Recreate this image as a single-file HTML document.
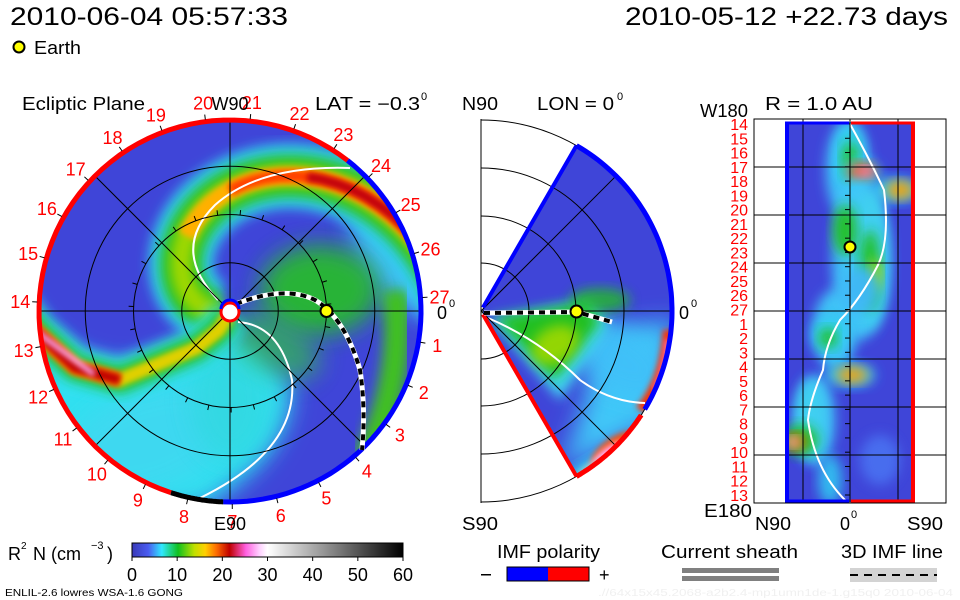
<!DOCTYPE html>
<html><head><meta charset="utf-8"><style>
html,body{margin:0;padding:0;background:#fff;}
svg{display:block;font-family:"Liberation Sans",sans-serif;}
</style></head><body>
<svg id="main" width="960" height="600" viewBox="0 0 960 600" xmlns="http://www.w3.org/2000/svg">
<defs>
<filter id="b6" x="-30%" y="-30%" width="160%" height="160%"><feGaussianBlur stdDeviation="6"/></filter>
<filter id="b3" x="-30%" y="-30%" width="160%" height="160%"><feGaussianBlur stdDeviation="3"/></filter>
<filter id="b12" x="-50%" y="-50%" width="200%" height="200%"><feGaussianBlur stdDeviation="12"/></filter>
<clipPath id="discClip"><circle cx="230" cy="311" r="193"/></clipPath>
<clipPath id="wedgeClip"><path id="wedgeClipPath" d=""/></clipPath>
<clipPath id="rectClip"><rect x="787" y="122" width="126" height="380"/></clipPath>
<linearGradient id="cbar" x1="0" x2="1" y1="0" y2="0">
<stop offset="0" stop-color="#3a3ab8"/><stop offset="0.06" stop-color="#4a5cf0"/><stop offset="0.11" stop-color="#30e8ff"/>
<stop offset="0.17" stop-color="#10c020"/><stop offset="0.23" stop-color="#c0e000"/><stop offset="0.27" stop-color="#ffd000"/>
<stop offset="0.31" stop-color="#ff7000"/><stop offset="0.36" stop-color="#c00000"/><stop offset="0.42" stop-color="#ff60e0"/>
<stop offset="0.47" stop-color="#ffd0ff"/><stop offset="0.5" stop-color="#ffffff"/><stop offset="1" stop-color="#000000"/>
</linearGradient>
</defs>

<text x="10" y="25" font-size="25" textLength="278" lengthAdjust="spacingAndGlyphs">2010-06-04 05:57:33</text>
<text x="625" y="25" font-size="25" textLength="323" lengthAdjust="spacingAndGlyphs">2010-05-12 +22.73 days</text>
<circle cx="19" cy="47" r="5.5" fill="#ffff00" stroke="#000" stroke-width="2"/>
<text x="34" y="54" font-size="18" textLength="47" lengthAdjust="spacingAndGlyphs">Earth</text>

<g id="left">
<text x="22" y="110" font-size="18" textLength="123" lengthAdjust="spacingAndGlyphs">Ecliptic Plane</text>
<text x="315" y="110" font-size="18" textLength="105" lengthAdjust="spacingAndGlyphs">LAT = −0.3</text>
<text x="421" y="100" font-size="11">0</text>
<g clip-path="url(#discClip)" id="leftField">
<circle cx="230" cy="311" r="193" fill="#3f45d8"/>
</g>
<g id="leftOver"></g>
</g>

<g id="mid">
<text x="462" y="110" font-size="18" textLength="36" lengthAdjust="spacingAndGlyphs">N90</text>
<text x="537" y="110" font-size="18" textLength="77" lengthAdjust="spacingAndGlyphs">LON = 0</text>
<text x="617" y="100" font-size="11">0</text>
<text x="462" y="530" font-size="18" textLength="36" lengthAdjust="spacingAndGlyphs">S90</text>
<text x="679" y="319" font-size="18">0</text>
<text x="691" y="307" font-size="11">0</text>
<g clip-path="url(#wedgeClip)" id="midField"></g>
<g id="midOver"></g>
</g>

<g id="right">
<text x="765" y="110" font-size="18" textLength="108" lengthAdjust="spacingAndGlyphs">R = 1.0 AU</text>
<text x="700" y="117" font-size="18" textLength="48" lengthAdjust="spacingAndGlyphs">W180</text>
<text x="704" y="517" font-size="18" textLength="48" lengthAdjust="spacingAndGlyphs">E180</text>
<text x="755" y="530" font-size="18" textLength="36" lengthAdjust="spacingAndGlyphs">N90</text>
<text x="840" y="530" font-size="18">0</text>
<text x="851" y="518" font-size="11">0</text>
<text x="907" y="530" font-size="18" textLength="36" lengthAdjust="spacingAndGlyphs">S90</text>
<rect x="754" y="119" width="192" height="384" fill="none" stroke="#000" stroke-width="1"/>
<g clip-path="url(#rectClip)" id="rightField">
<rect x="785" y="122" width="130" height="380" fill="#3f45d8"/>
</g>
<g id="rightOver"></g>
</g>

<g id="cbarG">
<text x="8" y="560" font-size="18">R</text>
<text x="21" y="549" font-size="10">2</text>
<text x="33" y="560" font-size="18">N (cm</text>
<text x="91" y="549" font-size="11">−3</text>
<text x="107" y="560" font-size="18">)</text>
<rect x="132" y="543" width="271" height="14" fill="url(#cbar)" stroke="#000" stroke-width="1"/>
</g>

<g>
<text x="497" y="558" font-size="18" textLength="103" lengthAdjust="spacingAndGlyphs">IMF polarity</text>
<rect x="481" y="574" width="10" height="1.5" fill="#000"/>
<rect x="507" y="567" width="41" height="14" fill="#0000ff"/>
<rect x="548" y="567" width="41" height="14" fill="#ff0000"/>
<rect x="507" y="567" width="82" height="14" fill="none" stroke="#000"/>
<text x="599" y="581" font-size="18">+</text>
</g>
<g>
<text x="661" y="558" font-size="18" textLength="137" lengthAdjust="spacingAndGlyphs">Current sheath</text>
<rect x="682" y="568" width="97" height="5" fill="#808080"/>
<rect x="682" y="576" width="97" height="5" fill="#808080"/>
</g>
<g>
<text x="841" y="558" font-size="18" textLength="102" lengthAdjust="spacingAndGlyphs">3D IMF line</text>
<rect x="850" y="568" width="87" height="14" fill="#d3d3d3"/>
<line x1="850" y1="575" x2="937" y2="575" stroke="#000" stroke-width="2" stroke-dasharray="8,6"/>
</g>
<text x="5" y="596" font-size="10" textLength="178" lengthAdjust="spacingAndGlyphs">ENLIL-2.6 lowres WSA-1.6 GONG</text>
<text x="598" y="596" font-size="10" fill="#f0f0f0" textLength="355" lengthAdjust="spacingAndGlyphs">.//64x15x45.2068-a2b2.4-mp1umn1de-1.g15q0   2010-06-04</text>

<script>
// ---- data arrays ----
const cbarTicks = [0, 10, 20, 30, 40, 50, 60];
const cbarMax = 60;
const dayLabels = [1,2,3,4,5,6,7,8,9,10,11,12,13,14,15,16,17,18,19,20,21,22,23,24,25,26,27];
const ringRadiiAU = [0.5, 1.0, 1.5];
const earthLonDeg = 0;
const earthLatDeg = -0.3;
const earthR_AU = 1.0;
const outerR_AU = 2.0;
const rightRowLabels = [14,15,16,17,18,19,20,21,22,23,24,25,26,27,1,2,3,4,5,6,7,8,9,10,11,12,13];

const NS='http://www.w3.org/2000/svg';
function mk(tag, attrs, parent){const e=document.createElementNS(NS,tag);for(const k in attrs)e.setAttribute(k,attrs[k]);parent.appendChild(e);return e;}
const L={cx:230,cy:311,R:193};
const M={cx:481,cy:311,R:191};
function rScale(au,P){return au/outerR_AU*P.R;}
function pol(P,phi,r){const a=phi*Math.PI/180;return [P.cx+r*Math.cos(a),P.cy-r*Math.sin(a)];}
function pathFrom(pts){return pts.map((p,i)=>(i?'L':'M')+p[0].toFixed(1)+','+p[1].toFixed(1)).join(' ');}

const lf=document.getElementById('leftField');
function blob(parent,cx,cy,rx,ry,fill,f,op,rot){return mk('ellipse',{cx:cx,cy:cy,rx:rx,ry:ry,fill:fill,filter:'url(#'+f+')',opacity:op||1,transform:rot?`rotate(${rot} ${cx} ${cy})`:''},parent);}
mk('path',{d:'M40,330 Q120,400 230,330 L290,380 Q300,450 200,510 L30,510 Z',fill:'#30e0f0',filter:'url(#b12)'},lf);
blob(lf,150,440,90,50,'#40d8f0','b12',0.9,-20);
blob(lf,230,400,40,60,'#30d8e0','b12',0.8);
blob(lf,400,250,40,70,'#40c8f8','b12',0.95,-30);
blob(lf,320,290,60,45,'#28c028','b12',0.9);
blob(lf,275,345,50,25,'#30c048','b12',0.7,30);
mk('path',{d:'M395,290 Q405,380 365,460',fill:'none',stroke:'#40c020',"stroke-width":26,filter:'url(#b6)'},lf);
const arm1=[];for(let ph=185;ph>=0;ph-=5){arm1.push(pol(L,ph,18+1.14*(180-ph)));}
const a1=pathFrom(arm1);
[['#30d0f0',64,'b6'],['#20c020',42,'b6'],['#a0d800',22,'b6']].forEach(s=>{mk('path',{d:a1,fill:'none',stroke:s[0],'stroke-width':s[1],filter:'url(#'+s[2]+')'},lf);});
const arm1m=[];for(let ph=120;ph>=0;ph-=5){arm1m.push(pol(L,ph,18+1.14*(180-ph)));}
mk('path',{d:pathFrom(arm1m),fill:'none',stroke:'#ffb000',"stroke-width":18,filter:'url(#b3)'},lf);
const arm1o=[];for(let ph=90;ph>=0;ph-=5){arm1o.push(pol(L,ph,18+1.14*(180-ph)));}
mk('path',{d:pathFrom(arm1o),fill:'none',stroke:'#ff4000',"stroke-width":12,filter:'url(#b3)'},lf);
const arm1p=[];for(let ph=60;ph>=15;ph-=5){arm1p.push(pol(L,ph,18+1.14*(180-ph)));}
mk('path',{d:pathFrom(arm1p),fill:'none',stroke:'#c00010',"stroke-width":9,filter:'url(#b3)'},lf);
const arm2Phi=[250,240,228,212,200,186,178];
const arm2R=[5,22,50,130,165,195,215];
const a2=pathFrom(arm2Phi.map((p,i)=>pol(L,p,arm2R[i])));
[['#30e0f0',40,'b6'],['#20c020',26,'b6'],['#e0d000',14,'b3']].forEach(s=>{mk('path',{d:a2,fill:'none',stroke:s[0],'stroke-width':s[1],filter:'url(#'+s[2]+')'},lf);});
const a2o=pathFrom(arm2Phi.slice(3).map((p,i)=>pol(L,p,arm2R[i+3])));
mk('path',{d:a2o,fill:'none',stroke:'#ff6000',"stroke-width":14,filter:'url(#b3)'},lf);
mk('path',{d:a2o,fill:'none',stroke:'#c00000','stroke-width':10,filter:'url(#b3)'},lf);
mk('path',{d:pathFrom([pol(L,205,150),pol(L,186,195),pol(L,178,215)]),fill:'none',stroke:'#ffb0ff','stroke-width':5,filter:'url(#b3)'},lf);
mk('path',{d:'M218,300 Q170,250 215,205 Q260,165 350,168',fill:'none',stroke:'#fff','stroke-width':2},lf);
mk('path',{d:'M238,322 Q280,325 292,380 Q298,450 200,498',fill:'none',stroke:'#fff','stroke-width':2},lf);

const lo=document.getElementById('leftOver');
ringRadiiAU.forEach(au=>{const c=mk('circle',{cx:L.cx,cy:L.cy,r:rScale(au,L),fill:'none',stroke:'#000','stroke-width':1},lo);});
[0,90,45,135].forEach(a=>{const p1=pol(L,a,L.R),p2=pol(L,a+180,L.R);const ln=mk('line',{x1:p1[0],y1:p1[1],x2:p2[0],y2:p2[1],stroke:'#000','stroke-width':1},lo);});
for(let i=0;i<27;i++){const ph=i*360/27+4;const p1=pol(L,ph,rScale(1,L)),p2=pol(L,ph,rScale(1,L)+5);mk('line',{x1:p1[0],y1:p1[1],x2:p2[0],y2:p2[1],stroke:'#000','stroke-width':1},lo);}
function arc(P,r,a0,a1,color,w,parent){const pts=[];const st=(a1-a0)/60;for(let i=0;i<=60;i++)pts.push(pol(P,a0+st*i,r));return mk('path',{d:pathFrom(pts),fill:'none',stroke:color,'stroke-width':w},parent);}
let b=arc(L,191,52,252,'#ff0000',5,lo);
b=arc(L,191,252,268,'#000',5,lo);
b=arc(L,191,-92,52,'#0000ff',5,lo);
dayLabels.forEach(d=>{const ph=(27-d)*360/27+4;const p=pol(L,ph,210);const t=mk('text',{x:p[0],y:p[1]+7,'font-size':18,fill:'#ff0000','text-anchor':'middle'},lo);t.textContent=d;

const q1=pol(L,ph,193),q2=pol(L,ph,198);mk('line',{x1:q1[0],y1:q1[1],x2:q2[0],y2:q2[1],stroke:'#000'},lo);});
let t=mk('text',{x:L.cx,y:110,'font-size':18,'text-anchor':'middle'},lo);t.textContent='W90';
t=mk('text',{x:L.cx,y:530,'font-size':18,'text-anchor':'middle'},lo);t.textContent='E90';
t=mk('text',{x:437,y:319,'font-size':18},lo);t.textContent='0';
mk('text',{x:449,y:307,'font-size':11},lo).textContent='0';
const imf='M236,304 Q285,285 315,300 Q345,318 360,370 Q366,410 362,450';
mk('path',{d:imf,fill:'none',stroke:'#fff','stroke-width':5},lo);
b=mk('path',{d:imf,fill:'none',stroke:'#000','stroke-width':4,'stroke-dasharray':'6,5'},lo);
mk('circle',{cx:L.cx,cy:L.cy+1,r:9,fill:'#fff',stroke:'#ff0000','stroke-width':3},lo);
b=mk('path',{d:'M221,309 A9,9 0 0 1 239,309',fill:'none',stroke:'#0000ff','stroke-width':3},lo);
const ep=pol(L,earthLonDeg,rScale(earthR_AU,L));
b=mk('circle',{cx:ep[0],cy:ep[1],r:6,fill:'#ffff00',stroke:'#000','stroke-width':2},lo);

const wedgePts=[pol(M,60,4)];for(let a=60;a>=-60;a-=2)wedgePts.push(pol(M,a,M.R));wedgePts.push(pol(M,-60,4));
const wd=pathFrom(wedgePts)+'Z';
document.getElementById('wedgeClipPath').setAttribute('d',wd);
const mf=document.getElementById('midField');
mk('path',{d:wd,fill:'#3f45d8'},mf);
mk('path',{d:'M600,330 L675,320 L660,420 L560,470 Q590,400 600,330Z',fill:'#40c8f8',filter:'url(#b12)'},mf);
blob(mf,620,360,50,30,'#40c0f8','b12',0.9,30);
mk('path',{d:'M490,318 L590,300 L610,325 L560,400 Z',fill:'#40d8f0',filter:'url(#b6)'},mf);
mk('path',{d:'M495,318 L585,302 L600,322 L555,380 Z',fill:'#20c020',filter:'url(#b6)'},mf);
blob(mf,555,345,25,18,'#a0d800','b6',0.9,-30);
blob(mf,600,300,30,12,'#20c020','b6',0.8);
blob(mf,595,470,40,12,'#30e0f0','b6',1,-30);
blob(mf,615,450,28,12,'#ff5000','b3',1,-35);
blob(mf,610,455,22,8,'#ffb0ff','b3',1,-35);
blob(mf,595,470,20,8,'#c0c0c0','b3',1,-30);
mk('path',{d:'M668,330 Q665,380 640,410',fill:'none',stroke:'#ff3000','stroke-width':10,filter:'url(#b3)'},mf);
mk('path',{d:'M668,340 Q666,370 655,390',fill:'none',stroke:'#ff90ff','stroke-width':4,filter:'url(#b3)'},mf);
mk('path',{d:'M488,318 Q540,340 580,380 Q610,402 645,403',fill:'none',stroke:'#fff','stroke-width':2},mf);
const mo=document.getElementById('midOver');
b=mk('line',{x1:M.cx,y1:119,x2:M.cx,y2:503,stroke:'#000'},mo);
mk('line',{x1:M.cx,y1:M.cy,x2:M.cx+M.R,y2:M.cy,stroke:'#000'},mo);
[48,95,143,191].forEach(r=>{const c=mk('path',{d:`M${M.cx},${M.cy-r} A${r},${r} 0 0 1 ${M.cx},${M.cy+r}`,fill:'none',stroke:'#000'},mo);});
[45,-45].forEach(a=>{const p=pol(M,a,M.R);mk('line',{x1:M.cx,y1:M.cy,x2:p[0],y2:p[1],stroke:'#000'},mo);});
b=arc(M,M.R,60,-31,'#0000ff',5,mo);
b=arc(M,M.R,-33,-60,'#ff0000',5,mo);
let p1=pol(M,60,4),p2=pol(M,60,M.R);mk('line',{x1:p1[0],y1:p1[1],x2:p2[0],y2:p2[1],stroke:'#0000ff','stroke-width':4},mo);
p1=pol(M,-60,4);p2=pol(M,-60,M.R);mk('line',{x1:p1[0],y1:p1[1],x2:p2[0],y2:p2[1],stroke:'#ff0000','stroke-width':4},mo);
const imf2='M484,313 L577,312 L612,322';
mk('path',{d:imf2,fill:'none',stroke:'#fff','stroke-width':5},mo);
b=mk('path',{d:imf2,fill:'none',stroke:'#000','stroke-width':4,'stroke-dasharray':'6,5'},mo);
const em=pol(M,earthLatDeg,rScale(earthR_AU,M));
b=mk('circle',{cx:em[0],cy:em[1],r:6,fill:'#ffff00',stroke:'#000','stroke-width':2},mo);

const rf=document.getElementById('rightField');
const rblobs=[[848,170,22,50,'#40c8f8'],[850,155,14,30,'#30d0f0'],[850,160,8,18,'#20c020'],[860,172,20,12,'#30d0f0'],[862,172,14,9,'#ff5000'],[865,172,7,5,'#ff90ff'],
[895,190,25,12,'#30d0f0'],[900,190,14,9,'#ffa000'],[860,260,28,80,'#40c8f8'],[870,260,20,70,'#40d0f0'],[870,270,10,40,'#20c020'],[875,275,6,16,'#c0e000'],
[845,230,12,25,'#20c020'],[835,330,22,40,'#40c8f8'],[830,335,18,18,'#30d0f0'],[828,338,9,10,'#20c020'],[850,375,25,12,'#30d0f0'],[852,375,16,8,'#ffa000'],
[815,420,20,45,'#40c8f8'],[810,420,15,40,'#40d0f0'],[800,440,18,15,'#20c020'],[795,442,10,8,'#ff5000'],[793,442,6,5,'#ffe0ff'],[830,480,12,25,'#30c0f0'],[880,460,20,25,'#4a70f0'],[860,290,20,25,'#40b8f8']];
rblobs.forEach(q=>blob(rf,q[0],q[1],q[2],q[3],q[4],'b6',0.95));
b=mk('path',{d:'M850,124 Q870,160 884,190 Q890,240 878,265 Q860,300 840,320 Q825,345 823,370 Q810,400 808,420 Q815,470 845,500',fill:'none',stroke:'#fff','stroke-width':2},rf);
const ro=document.getElementById('rightOver');
const rowY0=124,rowDY=(495-124)/26;
rightRowLabels.forEach((d,i)=>{const tt=mk('text',{x:748,y:rowY0+i*rowDY+6,'font-size':16,fill:'#ff0000','text-anchor':'end'},ro);tt.textContent=d;
});
[167,215,263,311,359,407,455].forEach(y=>mk('line',{x1:754,y1:y,x2:946,y2:y,stroke:'#000'},ro));
[803,850,898].forEach(x=>mk('line',{x1:x,y1:119,x2:x,y2:503,stroke:'#000'},ro));
for(let i=0;i<27;i++){const y=rowY0+i*rowDY;mk('line',{x1:845,y1:y,x2:850,y2:y,stroke:'#000'},ro);}
b=mk('line',{x1:787,y1:122,x2:787,y2:502,stroke:'#0000ff','stroke-width':4},ro);
b=mk('line',{x1:913,y1:122,x2:913,y2:502,stroke:'#ff0000','stroke-width':4},ro);
mk('line',{x1:785,y1:123,x2:849,y2:123,stroke:'#0000ff','stroke-width':3},ro);
mk('line',{x1:851,y1:123,x2:915,y2:123,stroke:'#ff0000','stroke-width':3},ro);
mk('line',{x1:785,y1:501,x2:849,y2:501,stroke:'#0000ff','stroke-width':3},ro);
mk('line',{x1:851,y1:501,x2:915,y2:501,stroke:'#ff0000','stroke-width':3},ro);
b=mk('circle',{cx:850,cy:247,r:5.5,fill:'#ffff00',stroke:'#000','stroke-width':2},ro);

const cg=document.getElementById('cbarG');
cbarTicks.forEach(v=>{const x=132+v/cbarMax*271;mk('line',{x1:x,y1:557,x2:x,y2:561,stroke:'#000'},cg);
const tt=mk('text',{x:x,y:581,'font-size':18,'text-anchor':'middle'},cg);tt.textContent=v;
});
</script>
</svg>
</body></html>
